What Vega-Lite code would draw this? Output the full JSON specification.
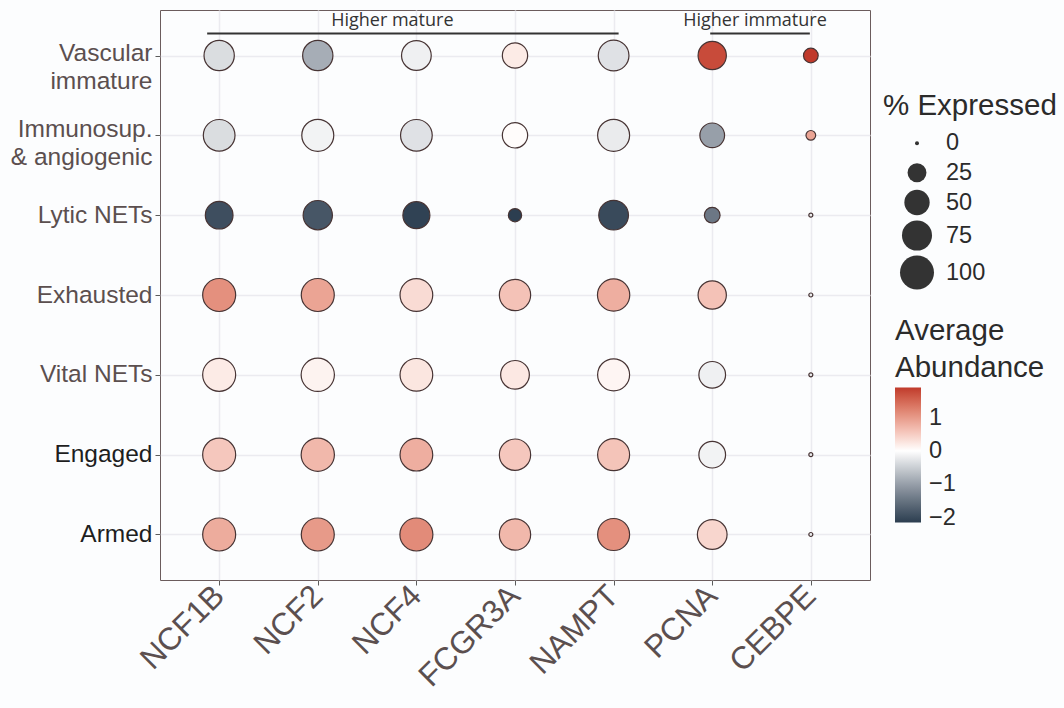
{
  "$schema": "https://vega.github.io/schema/vega-lite/v6.json",
  "width": 710,
  "height": 570,
  "autosize": {"type": "none"},
  "padding": {"left": 160, "top": 10, "right": 194, "bottom": 128},
  "background": "#fcfdfe",
  "config": {
    "font": "Liberation Sans",
    "view": {"stroke": "#6b5c5c", "strokeWidth": 1, "fill": "#fcfdfe"}
  },
  "data": {
    "values": [
      {"group": "Vascular immature", "gene": "NCF1B", "pct": 76.4, "avg": -0.35},
      {"group": "Vascular immature", "gene": "NCF2", "pct": 76.4, "avg": -0.85},
      {"group": "Vascular immature", "gene": "NCF4", "pct": 72.9, "avg": -0.15},
      {"group": "Vascular immature", "gene": "FCGR3A", "pct": 50.0, "avg": 0.2},
      {"group": "Vascular immature", "gene": "NAMPT", "pct": 78.8, "avg": -0.3},
      {"group": "Vascular immature", "gene": "PCNA", "pct": 65.1, "avg": 1.75},
      {"group": "Vascular immature", "gene": "CEBPE", "pct": 13.5, "avg": 1.9},
      {"group": "Immunosup. & angiogenic", "gene": "NCF1B", "pct": 84.9, "avg": -0.35},
      {"group": "Immunosup. & angiogenic", "gene": "NCF2", "pct": 86.8, "avg": -0.12},
      {"group": "Immunosup. & angiogenic", "gene": "NCF4", "pct": 84.9, "avg": -0.3},
      {"group": "Immunosup. & angiogenic", "gene": "FCGR3A", "pct": 50.0, "avg": 0.03},
      {"group": "Immunosup. & angiogenic", "gene": "NAMPT", "pct": 86.8, "avg": -0.2},
      {"group": "Immunosup. & angiogenic", "gene": "PCNA", "pct": 47.3, "avg": -1.0},
      {"group": "Immunosup. & angiogenic", "gene": "CEBPE", "pct": 4.6, "avg": 0.9},
      {"group": "Lytic NETs", "gene": "NCF1B", "pct": 61.9, "avg": -1.95},
      {"group": "Lytic NETs", "gene": "NCF2", "pct": 70.6, "avg": -1.85},
      {"group": "Lytic NETs", "gene": "NCF4", "pct": 58.3, "avg": -2.1},
      {"group": "Lytic NETs", "gene": "FCGR3A", "pct": 10.5, "avg": -2.15},
      {"group": "Lytic NETs", "gene": "NAMPT", "pct": 72.9, "avg": -2.0},
      {"group": "Lytic NETs", "gene": "PCNA", "pct": 15.9, "avg": -1.45},
      {"group": "Lytic NETs", "gene": "CEBPE", "pct": 0, "avg": -0.2},
      {"group": "Exhausted", "gene": "NCF1B", "pct": 93.3, "avg": 1.1},
      {"group": "Exhausted", "gene": "NCF2", "pct": 93.3, "avg": 0.9},
      {"group": "Exhausted", "gene": "NCF4", "pct": 91.3, "avg": 0.35},
      {"group": "Exhausted", "gene": "FCGR3A", "pct": 82.4, "avg": 0.6},
      {"group": "Exhausted", "gene": "NAMPT", "pct": 88.7, "avg": 0.8},
      {"group": "Exhausted", "gene": "PCNA", "pct": 65.1, "avg": 0.6},
      {"group": "Exhausted", "gene": "CEBPE", "pct": 0, "avg": -0.2},
      {"group": "Vital NETs", "gene": "NCF1B", "pct": 93.3, "avg": 0.2},
      {"group": "Vital NETs", "gene": "NCF2", "pct": 95.0, "avg": 0.12},
      {"group": "Vital NETs", "gene": "NCF4", "pct": 91.3, "avg": 0.25},
      {"group": "Vital NETs", "gene": "FCGR3A", "pct": 67.3, "avg": 0.23},
      {"group": "Vital NETs", "gene": "NAMPT", "pct": 86.8, "avg": 0.1},
      {"group": "Vital NETs", "gene": "PCNA", "pct": 56.8, "avg": -0.15},
      {"group": "Vital NETs", "gene": "CEBPE", "pct": 0, "avg": -0.2},
      {"group": "Engaged", "gene": "NCF1B", "pct": 93.3, "avg": 0.55},
      {"group": "Engaged", "gene": "NCF2", "pct": 95.0, "avg": 0.7},
      {"group": "Engaged", "gene": "NCF4", "pct": 91.3, "avg": 0.8},
      {"group": "Engaged", "gene": "FCGR3A", "pct": 82.4, "avg": 0.55},
      {"group": "Engaged", "gene": "NAMPT", "pct": 86.8, "avg": 0.58},
      {"group": "Engaged", "gene": "PCNA", "pct": 56.8, "avg": -0.12},
      {"group": "Engaged", "gene": "CEBPE", "pct": 0, "avg": -0.2},
      {"group": "Armed", "gene": "NCF1B", "pct": 93.3, "avg": 0.82},
      {"group": "Armed", "gene": "NCF2", "pct": 93.3, "avg": 1.0},
      {"group": "Armed", "gene": "NCF4", "pct": 93.3, "avg": 1.15},
      {"group": "Armed", "gene": "FCGR3A", "pct": 82.4, "avg": 0.7},
      {"group": "Armed", "gene": "NAMPT", "pct": 86.8, "avg": 1.1},
      {"group": "Armed", "gene": "PCNA", "pct": 72.9, "avg": 0.4},
      {"group": "Armed", "gene": "CEBPE", "pct": 0, "avg": -0.2}
    ]
  },
  "encoding": {
    "x": {
      "field": "gene", "type": "nominal",
      "scale": {"type": "point", "padding": 0.6, "domain": ["NCF1B", "NCF2", "NCF4", "FCGR3A", "NAMPT", "PCNA", "CEBPE"]},
      "axis": {
        "title": null, "domain": false,
        "labelAngle": -45, "labelAlign": "right", "labelBaseline": "middle",
        "labelFontSize": 31.5, "labelColor": "#5b4f4f", "labelPadding": 6,
        "tickColor": "#5b5b5b", "tickSize": 5, "tickWidth": 1,
        "grid": true, "gridColor": "#ebebf0", "gridWidth": 1.5
      }
    },
    "y": {
      "field": "group", "type": "nominal",
      "scale": {"type": "point", "padding": 0.57, "domain": ["Vascular immature", "Immunosup. & angiogenic", "Lytic NETs", "Exhausted", "Vital NETs", "Engaged", "Armed"]},
      "axis": {
        "title": null, "domain": false,
        "labelFontSize": 24.5, "labelLineHeight": 28, "labelPadding": 3,
        "labelExpr": "datum.value == 'Vascular immature' ? ['Vascular', 'immature'] : datum.value == 'Immunosup. & angiogenic' ? ['Immunosup.', '& angiogenic'] : datum.value",
        "labelColor": {"condition": {"test": "datum.value == 'Engaged' || datum.value == 'Armed'", "value": "#1e1e1e"}, "value": "#5b4f4f"},
        "labelOffset": {"condition": [
          {"test": "datum.value == 'Vascular immature'", "value": -2},
          {"test": "datum.value == 'Immunosup. & angiogenic'", "value": -6}
        ], "value": 0},
        "tickColor": "#5b5b5b", "tickSize": 5, "tickWidth": 1,
        "grid": true, "gridColor": "#ebebf0", "gridWidth": 1.5
      }
    }
  },
  "layer": [
    {
      "mark": {"type": "circle", "opacity": 1, "stroke": "#473434", "strokeWidth": 1.2},
      "encoding": {
        "size": {
          "field": "pct", "type": "quantitative",
          "scale": {"type": "pow", "exponent": 0.87, "domain": [0, 100], "range": [16, 1156]},
          "legend": {
            "title": "% Expressed", "orient": "none", "legendX": 723, "legendY": 82,
            "values": [0, 25, 50, 75, 100],
            "titleFontSize": 29.5, "titleFontWeight": "normal", "titleColor": "#2b2b2b", "titlePadding": 10,
            "labelFontSize": 23.5, "labelColor": "#2b2b2b", "labelOffset": 12,
            "symbolFillColor": "#333333", "symbolStrokeWidth": 0, "symbolOpacity": 1,
            "symbolOffset": 17, "rowPadding": 4.5
          }
        },
        "color": {
          "field": "avg", "type": "quantitative",
          "scale": {"domain": [-2.15, 0, 1.9], "range": ["#2c3e50", "#ffffff", "#c0392b"], "interpolate": "lab"},
          "legend": {
            "title": ["Average", "Abundance"], "orient": "none", "legendX": 735, "legendY": 307,
            "titleFontSize": 29.5, "titleFontWeight": "normal", "titleColor": "#2b2b2b", "titleLineHeight": 37, "titlePadding": 4,
            "gradientLength": 135, "gradientThickness": 26, "gradientStrokeWidth": 0,
            "labelFontSize": 23.5, "labelColor": "#2b2b2b", "labelOffset": 8,
            "values": [-2, -1, 0, 1]
          }
        }
      }
    },
    {
      "data": {"values": [{"label": "Higher mature", "from": "NCF1B", "to": "NAMPT", "anchor": "Vascular immature"}]},
      "layer": [
        {
          "mark": {"type": "rule", "color": "#333333", "strokeWidth": 2, "yOffset": -22, "xOffset": -12, "x2Offset": 5},
          "encoding": {
            "x": {"field": "from", "type": "nominal"},
            "x2": {"field": "to"},
            "y": {"field": "anchor", "type": "nominal"}
          }
        },
        {
          "mark": {"type": "text", "font": "Open Sans", "fontSize": 18, "color": "#333333", "align": "left", "baseline": "middle", "dx": 112, "dy": -35},
          "encoding": {
            "x": {"field": "from", "type": "nominal"},
            "y": {"field": "anchor", "type": "nominal"},
            "text": {"field": "label"}
          }
        }
      ]
    },
    {
      "data": {"values": [{"label": "Higher immature", "from": "PCNA", "to": "CEBPE", "anchor": "Vascular immature"}]},
      "layer": [
        {
          "mark": {"type": "rule", "color": "#333333", "strokeWidth": 2, "yOffset": -22, "xOffset": -2, "x2Offset": -1},
          "encoding": {
            "x": {"field": "from", "type": "nominal"},
            "x2": {"field": "to"},
            "y": {"field": "anchor", "type": "nominal"}
          }
        },
        {
          "mark": {"type": "text", "font": "Open Sans", "fontSize": 18, "color": "#333333", "align": "left", "baseline": "middle", "dx": -29, "dy": -35},
          "encoding": {
            "x": {"field": "from", "type": "nominal"},
            "y": {"field": "anchor", "type": "nominal"},
            "text": {"field": "label"}
          }
        }
      ]
    }
  ]
}
